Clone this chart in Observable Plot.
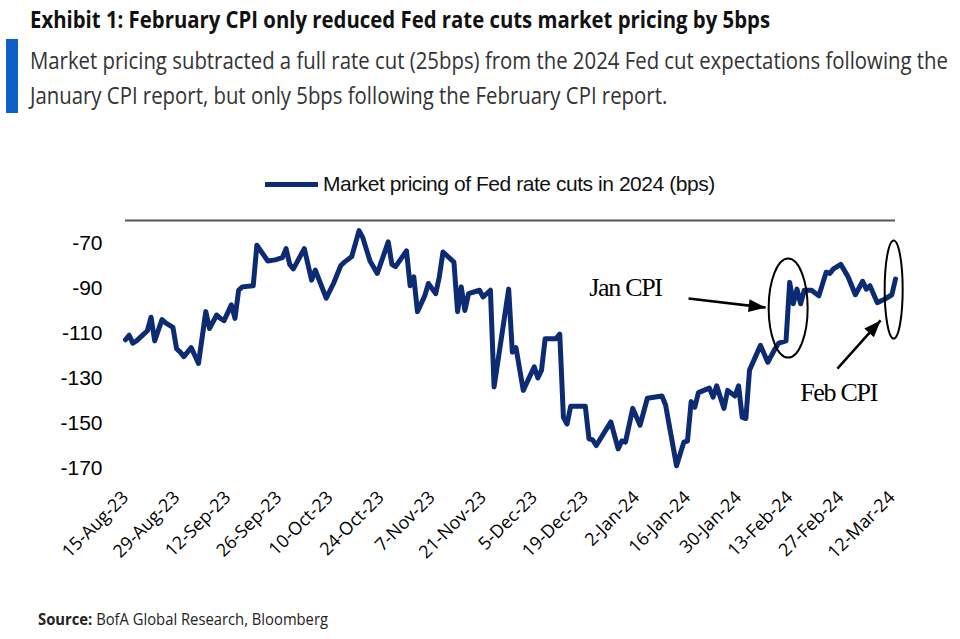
<!DOCTYPE html>
<html>
<head>
<meta charset="utf-8">
<script src="https://cdn.jsdelivr.net/npm/d3@7"></script>
<script src="https://cdn.jsdelivr.net/npm/@observablehq/plot@0.6"></script>
<style>
  html, body { margin: 0; padding: 0; background: #fff; }
  body { width: 960px; height: 639px; position: relative; overflow: hidden; font-family: "Open Sans", sans-serif; }
  .abs { position: absolute; white-space: nowrap; transform-origin: 0 0; }
  #bar { position: absolute; left: 6px; top: 39px; width: 12px; height: 74px; background: #0f5fc8; }
  #title { left: 30px; top: 8px; font-weight: 700; font-size: 23px; line-height: 23px; color: #111; }
  #sub1 { left: 30px; top: 48px; font-size: 24px; line-height: 24px; color: #333; }
  #sub2 { left: 30px; top: 83px; font-size: 24px; line-height: 24px; color: #333; }
  #legend { left: 265px; top: 172px; font-family: "Liberation Sans", Arial, sans-serif; font-size: 21px; color: #111; letter-spacing: -0.45px; display: flex; align-items: center; }
  #legend .sw { display: inline-block; width: 53px; height: 5px; background: #0c2b73; margin-right: 5px; }
  #source { left: 38px; top: 608px; font-size: 16px; color: #222; }
  #chart { position: absolute; left: 0; top: 130px; }
  g[font-family="Liberation Serif"] text { letter-spacing: -1.3px; }
</style>
</head>
<body>
<div id="bar"></div>
<div id="title" class="abs">Exhibit 1: February CPI only reduced Fed rate cuts market pricing by 5bps</div>
<div id="sub1" class="abs">Market pricing subtracted a full rate cut (25bps) from the 2024 Fed cut expectations following the</div>
<div id="sub2" class="abs">January CPI report, but only 5bps following the February CPI report.</div>
<div id="legend" class="abs"><span class="sw"></span><span id="legtext"></span></div>
<div id="chart"></div>
<div id="source" class="abs"><b>Source:</b> BofA Global Research, Bloomberg</div>
<script>
// ---- Data ----
const dates = [
  "2023-08-15","2023-08-16","2023-08-17","2023-08-18","2023-08-20","2023-08-21","2023-08-22","2023-08-23","2023-08-25","2023-08-26",
  "2023-08-28","2023-08-29","2023-08-30","2023-08-31","2023-09-02","2023-09-03","2023-09-04","2023-09-06","2023-09-07","2023-09-09",
  "2023-09-10","2023-09-11","2023-09-13","2023-09-14","2023-09-15","2023-09-16","2023-09-19","2023-09-20","2023-09-23","2023-09-25",
  "2023-09-27","2023-09-28","2023-09-29","2023-09-30","2023-10-01","2023-10-03","2023-10-05","2023-10-06","2023-10-09","2023-10-11",
  "2023-10-13","2023-10-14","2023-10-16","2023-10-18","2023-10-19","2023-10-21","2023-10-23","2023-10-26","2023-10-27","2023-10-28",
  "2023-10-31","2023-11-01","2023-11-02","2023-11-03","2023-11-05","2023-11-06","2023-11-08","2023-11-09","2023-11-10","2023-11-13",
  "2023-11-14","2023-11-15","2023-11-16","2023-11-17","2023-11-20","2023-11-21","2023-11-23","2023-11-24","2023-11-28","2023-11-29",
  "2023-11-30","2023-12-02","2023-12-05","2023-12-06","2023-12-07","2023-12-08","2023-12-11","2023-12-12","2023-12-13","2023-12-14",
  "2023-12-15","2023-12-19","2023-12-20","2023-12-21","2023-12-22","2023-12-26","2023-12-28","2023-12-29","2023-12-30","2024-01-01",
  "2024-01-03","2024-01-05","2024-01-09","2024-01-10","2024-01-13","2024-01-15","2024-01-16","2024-01-17","2024-01-18","2024-01-19",
  "2024-01-22","2024-01-23","2024-01-24","2024-01-26","2024-01-27","2024-01-29","2024-01-30","2024-01-31","2024-02-01","2024-02-02",
  "2024-02-05","2024-02-07","2024-02-09","2024-02-10","2024-02-12","2024-02-13","2024-02-14","2024-02-15","2024-02-16","2024-02-17",
  "2024-02-19","2024-02-21","2024-02-23","2024-02-24","2024-02-25","2024-02-27","2024-02-29","2024-03-02","2024-03-04","2024-03-05",
  "2024-03-06","2024-03-08","2024-03-10","2024-03-12","2024-03-13"
];
const values = [
  -113,-111,-114.5,-113.5,-110.5,-109,-103,-113.5,-104,-105.5,
  -107.5,-117,-118.5,-120.5,-116.5,-120,-123.5,-100.5,-108,-102,
  -103.5,-104.5,-97.5,-103.5,-91,-89.5,-89,-71,-78,-77.5,
  -76.5,-72.5,-79.5,-81.5,-78.5,-72.5,-86.5,-82,-94.5,-88,
  -80,-78.5,-76,-64.5,-67.5,-78,-83.5,-69.5,-79.5,-80.5,
  -73.5,-89,-85,-100.5,-93.5,-88,-92.5,-85,-74,-78.5,
  -100.5,-89.5,-100,-92.5,-91,-94,-91,-134,-90.5,-118.5,
  -116.5,-135.5,-125,-130,-126.5,-112.5,-112.5,-110.5,-147.5,-150.5,
  -142.5,-142.5,-157,-157.5,-160,-149.5,-161.5,-158,-158.5,-143.5,
  -151,-139,-138,-142,-169,-158.5,-158,-140.5,-143,-136.5,
  -134.5,-138.5,-133.5,-143.5,-135.5,-138,-133.5,-147.5,-148,-126.5,
  -115.5,-123,-117,-114.5,-113.5,-87.5,-97,-90.5,-97,-91,
  -91,-93.5,-83,-83.5,-81.5,-79.5,-85,-93,-87,-90.5,
  -89,-96.5,-95,-93,-86
];
const xTickLabels = ["15-Aug-23","29-Aug-23","12-Sep-23","26-Sep-23","10-Oct-23","24-Oct-23","7-Nov-23","21-Nov-23",
  "5-Dec-23","19-Dec-23","2-Jan-24","16-Jan-24","30-Jan-24","13-Feb-24","27-Feb-24","12-Mar-24"];
const yTicks = [-70, -90, -110, -130, -150, -170];
const seriesName = "Market pricing of Fed rate cuts in 2024 (bps)";

// annotations (data coordinates)
const annLabels = ["Jan CPI", "Feb CPI"];
const annLabelDates = ["2023-12-30T00:00", "2024-02-26T10:00"];
const annLabelValues = [-89.8, -136.4];
const arrowFromDates = ["2024-01-16T07:00", "2024-02-26T02:00"];
const arrowFromValues = [-94.7, -125.8];
const arrowToDates = ["2024-02-06T10:00", "2024-03-08T22:00"];
const arrowToValues = [-98.7, -104.4];
const circleDates = ["2024-02-12T14:00", "2024-03-12T12:00"];
const circleValues = [-98.9, -90.7];

// ---- Build ----
document.getElementById("legtext").textContent = seriesName;
const parseDay = d3.utcParse("%Y-%m-%d");
const parseDT = d3.utcParse("%Y-%m-%dT%H:%M");
const data = dates.map((d, i) => ({date: parseDay(d), value: values[i]}));
const tickDates = xTickLabels.map(d3.utcParse("%d-%b-%y"));

const labels = annLabels.map((t, i) => ({text: t, date: parseDT(annLabelDates[i]), value: annLabelValues[i]}));
const arrows = arrowFromDates.map((d, i) => ({x1: parseDT(d), y1: arrowFromValues[i], x2: parseDT(arrowToDates[i]), y2: arrowToValues[i]}));
const circles = circleDates.map((d, i) => ({date: parseDT(d), value: circleValues[i]}));

function ellipseSymbol(rx, ry) {
  const k = 0.5523;
  return {draw(ctx) {
    ctx.moveTo(rx, 0);
    ctx.bezierCurveTo(rx, ry * k, rx * k, ry, 0, ry);
    ctx.bezierCurveTo(-rx * k, ry, -rx, ry * k, -rx, 0);
    ctx.bezierCurveTo(-rx, -ry * k, -rx * k, -ry, 0, -ry);
    ctx.bezierCurveTo(rx * k, -ry, rx, -ry * k, rx, 0);
    ctx.closePath();
  }};
}
function headSymbol(angle, len, half) {
  const a = angle * Math.PI / 180, c = Math.cos(a), s = Math.sin(a);
  const p = (x, y) => [x * c - y * s, x * s + y * c];
  return {draw(ctx) {
    const [x1, y1] = p(-len, -half), [x2, y2] = p(-len, half);
    ctx.moveTo(0, 0); ctx.lineTo(x1, y1); ctx.lineTo(x2, y2); ctx.closePath();
  }};
}

const chart = Plot.plot({
  width: 960,
  height: 470,
  marginLeft: 125,
  marginRight: 65,
  marginTop: 90,
  marginBottom: 110,
  style: {background: "transparent", overflow: "visible", color: "#000"},
  x: {type: "utc", domain: [parseDay("2023-08-15"), parseDay("2024-03-13")]},
  y: {domain: [-180, -60]},
  marks: [
    Plot.ruleY([-60], {stroke: "#555", strokeWidth: 2}),
    Plot.axisY({ticks: yTicks, tickSize: 0, tickPadding: 23, tickFormat: d => String(d),
      fontSize: 21, fontFamily: "Liberation Sans", label: null}),
    Plot.axisX({ticks: tickDates, tickSize: 0, tickPadding: 4, tickRotate: -45,
      tickFormat: d3.utcFormat("%-d-%b-%y"), fontSize: 18, fontFamily: "Open Sans", label: null}),
    Plot.line(data, {x: "date", y: "value", stroke: "#0c2b73", strokeWidth: 5}),
    Plot.link(arrows, {x1: "x1", y1: "y1", x2: "x2", y2: "y2", stroke: "#000", strokeWidth: 2.5}),
    Plot.dot([arrows[0]], {x: "x2", y: "y2", symbol: headSymbol(6.7, 17, 6.5), fill: "#000", stroke: "none"}),
    Plot.dot([arrows[1]], {x: "x2", y: "y2", symbol: headSymbol(-47.5, 17, 6.5), fill: "#000", stroke: "none"}),
    Plot.dot([circles[0]], {x: "date", y: "value", symbol: ellipseSymbol(19.5, 49.5), fill: "none", stroke: "#000", strokeWidth: 2}),
    Plot.dot([circles[1]], {x: "date", y: "value", symbol: ellipseSymbol(9, 49), fill: "none", stroke: "#000", strokeWidth: 2}),
    Plot.text(labels, {x: "date", y: "value", text: "text", fontFamily: "Liberation Serif", fontSize: 26, fill: "#000"})
  ]
});
document.getElementById("chart").appendChild(chart);

// fit header texts to the reference widths (condensed face emulation)
function fit(id, target) {
  const el = document.getElementById(id);
  const w = el.getBoundingClientRect().width;
  const s = target / w;
  el.style.transform = `scaleX(${s})`;
  return s;
}
fit("title", 740);
const s1 = fit("sub1", 918);
document.getElementById("sub2").style.transform = `scaleX(${s1})`;
fit("source", 290);
</script>
</body>
</html>
